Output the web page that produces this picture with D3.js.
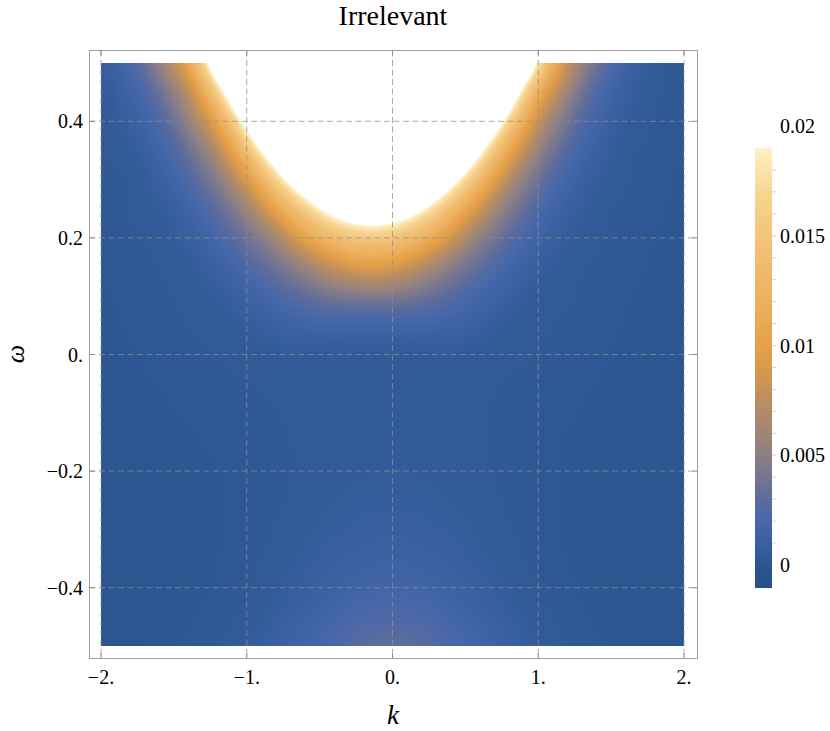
<!DOCTYPE html>
<html>
<head>
<meta charset="utf-8">
<script src="https://cdn.jsdelivr.net/npm/d3@7"></script>
<style>
  body { margin: 0; background: #fff; }
  text { font-family: "Liberation Serif", "Times New Roman", serif; fill: #000; }
</style>
</head>
<body>
<div id="chart"></div>
<script>
// grid of the density plot: columns are k, rows are omega (top row first)
const kValues = [-2.0, -1.8, -1.6, -1.4, -1.2, -1.0, -0.8, -0.6, -0.4, -0.2, 0.0,
                 0.2, 0.4, 0.6, 0.8, 1.0, 1.2, 1.4, 1.6, 1.8, 2.0];
const omegaValues = [0.5, 0.45, 0.4, 0.35, 0.3, 0.25, 0.2, 0.15, 0.1, 0.05, 0.0,
                     -0.05, -0.1, -0.15, -0.2, -0.25, -0.3, -0.35, -0.4, -0.45, -0.5];

// intensity, in units of 1e-3 (above 0.019 the plot is clipped to white)
const intensity = [
  [0.76, 2.11, 5.25, 10.9, 25.0, 52, 98, 148, 148, 148, 148, 148, 135, 77.5, 39.4, 18.1, 8.0, 3.7, 1.39, 0.5, 0.35],
  [0.52, 1.40, 3.56, 7.63, 16.5, 33.8, 62.7, 102.5, 146.8, 148, 148, 130, 86, 50, 25.8, 12.0, 5.77, 2.48, 0.93, 0.44, 0.31],
  [0.45, 0.92, 2.39, 5.39, 10.9, 22.0, 40.1, 64.7, 91.2, 110, 104.5, 81.4, 54.5, 32.2, 16.9, 8.14, 3.96, 1.63, 0.62, 0.39, 0.27],
  [0.39, 0.61, 1.55, 3.6, 7.27, 14.3, 25.7, 40.8, 56.7, 67.3, 64.4, 50.9, 34.6, 20.7, 11.0, 5.56, 2.61, 1.05, 0.47, 0.34, 0.24],
  [0.35, 0.40, 0.98, 2.37, 4.86, 9.3, 16.5, 25.7, 35.2, 41.2, 39.6, 31.8, 22.0, 13.4, 7.19, 3.65, 1.68, 0.68, 0.42, 0.30, 0.21],
  [0.31, 0.41, 0.62, 1.48, 3.12, 5.89, 10.5, 16.2, 21.9, 25.2, 24.4, 19.9, 13.9, 8.45, 4.63, 2.36, 1.04, 0.48, 0.37, 0.27, 0.19],
  [0.27, 0.36, 0.47, 0.90, 2.0, 3.66, 6.34, 10.2, 13.6, 15.5, 15.0, 12.4, 8.65, 5.15, 2.89, 1.44, 0.64, 0.42, 0.32, 0.24, 0.17],
  [0.24, 0.32, 0.41, 0.54, 1.14, 2.25, 3.72, 5.81, 8.04, 9.34, 8.99, 7.2, 4.94, 3.06, 1.75, 0.84, 0.47, 0.38, 0.29, 0.21, 0.15],
  [0.21, 0.28, 0.36, 0.45, 0.65, 1.24, 2.16, 3.10, 4.06, 4.47, 4.45, 3.72, 2.70, 1.77, 0.96, 0.50, 0.42, 0.33, 0.25, 0.18, 0.13],
  [0.19, 0.25, 0.32, 0.40, 0.47, 0.66, 1.07, 1.5, 1.65, 1.62, 1.63, 1.66, 1.35, 0.90, 0.53, 0.44, 0.37, 0.29, 0.22, 0.16, 0.11],
  [0.16, 0.22, 0.28, 0.35, 0.41, 0.47, 0.52, 0.56, 0.57, 0.55, 0.55, 0.57, 0.56, 0.49, 0.45, 0.39, 0.32, 0.26, 0.20, 0.15, 0.10],
  [0.14, 0.19, 0.24, 0.3, 0.35, 0.4, 0.45, 0.49, 0.52, 0.52, 0.52, 0.52, 0.49, 0.44, 0.39, 0.34, 0.28, 0.23, 0.18, 0.14, 0.1],
  [0.12, 0.16, 0.2, 0.25, 0.3, 0.35, 0.4, 0.45, 0.49, 0.51, 0.52, 0.5, 0.47, 0.42, 0.36, 0.3, 0.25, 0.2, 0.16, 0.12, 0.09],
  [0.1, 0.13, 0.17, 0.21, 0.26, 0.31, 0.37, 0.43, 0.49, 0.53, 0.55, 0.53, 0.48, 0.42, 0.35, 0.28, 0.22, 0.18, 0.14, 0.11, 0.08],
  [0.09, 0.11, 0.14, 0.18, 0.23, 0.29, 0.36, 0.44, 0.52, 0.58, 0.6, 0.58, 0.52, 0.44, 0.36, 0.28, 0.22, 0.17, 0.13, 0.1, 0.08],
  [0.08, 0.1, 0.13, 0.17, 0.22, 0.28, 0.37, 0.48, 0.6, 0.69, 0.73, 0.69, 0.6, 0.48, 0.37, 0.28, 0.22, 0.17, 0.13, 0.1, 0.08],
  [0.08, 0.1, 0.13, 0.17, 0.22, 0.3, 0.41, 0.56, 0.72, 0.85, 0.9, 0.85, 0.72, 0.56, 0.41, 0.3, 0.22, 0.17, 0.13, 0.1, 0.08],
  [0.08, 0.1, 0.13, 0.17, 0.23, 0.33, 0.48, 0.68, 0.92, 1.1, 1.2, 1.1, 0.92, 0.68, 0.48, 0.33, 0.23, 0.17, 0.13, 0.1, 0.08],
  [0.08, 0.1, 0.13, 0.18, 0.26, 0.38, 0.58, 0.87, 1.25, 1.55, 1.65, 1.55, 1.25, 0.87, 0.58, 0.38, 0.26, 0.18, 0.13, 0.1, 0.08],
  [0.08, 0.1, 0.15, 0.21, 0.31, 0.48, 0.76, 1.18, 1.7, 2.15, 2.3, 2.15, 1.7, 1.18, 0.76, 0.48, 0.31, 0.21, 0.15, 0.1, 0.08],
  [0.1, 0.12, 0.18, 0.26, 0.38, 0.6, 1.05, 1.6, 2.2, 2.8, 3.0, 2.8, 2.2, 1.6, 1.05, 0.6, 0.38, 0.26, 0.18, 0.12, 0.1]
];

const kTicks = [-2, -1, 0, 1, 2];
const kTickLabels = ["\u22122.", "\u22121.", "0.", "1.", "2."];
const omegaTicks = [-0.4, -0.2, 0, 0.2, 0.4];
const omegaTickLabels = ["\u22120.4", "\u22120.2", "0.", "0.2", "0.4"];

// legend, same 1e-3 units
const legendTicks = [0, 5, 10, 15, 20];
const legendTickLabels = ["0", "0.005", "0.01", "0.015", "0.02"];
const legendRange = [-1.05, 19.0];

const colorStops = [-1.05, 0, 1, 2, 3, 4, 5, 6, 7, 8, 9, 10, 12, 14, 15, 17, 19];
const colorStopColors = ["#25508a", "#2a558e", "#3a60a2", "#4767aa", "#5d6c9c", "#767690",
  "#8c7f85", "#a08676", "#b38b67", "#c69158", "#d9994c", "#e5a049", "#edb05f",
  "#f1bd70", "#f3c47a", "#f7d591", "#fff2c6"];

const width = 830, height = 731;

const svg = d3.select("#chart").append("svg")
    .attr("width", width)
    .attr("height", height);

const x = d3.scaleLinear().domain([-2, 2]).range([101, 684]);
const y = d3.scaleLinear().domain([-0.5, 0.5]).range([646, 63]);
const col = d3.scaleLinear().domain([kValues[0], kValues[kValues.length - 1]]).range([0, kValues.length - 1]);
const row = d3.scaleLinear().domain([omegaValues[0], omegaValues[omegaValues.length - 1]]).range([0, omegaValues.length - 1]);
const color = d3.scaleLinear().domain(colorStops).range(colorStopColors)
    .interpolate(d3.interpolateRgb).clamp(true);

// ---- density raster ----
const x0 = x.range()[0], y0 = y.range()[1];
const plotW = Math.round(x.range()[1] - x0), plotH = Math.round(y.range()[0] - y0);

function cubic(p0, p1, p2, p3, t) {
    return p1 + 0.5 * t * (p2 - p0 + t * (2 * p0 - 5 * p1 + 4 * p2 - p3 + t * (3 * (p1 - p2) + p3 - p0)));
}
const nC = kValues.length, nR = omegaValues.length;
const ci = i => Math.max(0, Math.min(nC - 1, i));
const ri = i => Math.max(0, Math.min(nR - 1, i));

// smooth in log space, the band falls off roughly exponentially
const logGrid = intensity.map(r => r.map(v => Math.log(v)));

function valueAt(c, r) {
    const c1 = Math.floor(c), r1 = Math.floor(r);
    const tc = c - c1, tr = r - r1;
    const v = [];
    for (let j = -1; j <= 2; j++) {
        const line = logGrid[ri(r1 + j)];
        v.push(cubic(line[ci(c1 - 1)], line[ci(c1)], line[ci(c1 + 1)], line[ci(c1 + 2)], tc));
    }
    return Math.exp(cubic(v[0], v[1], v[2], v[3], tr));
}

// colour lookup table
const lutN = 2048;
const lut = d3.range(lutN).map(i => d3.rgb(color(legendRange[0] + (legendRange[1] - legendRange[0]) * i / (lutN - 1))));

const canvas = document.createElement("canvas");
canvas.width = plotW;
canvas.height = plotH;
const ctx = canvas.getContext("2d");
const img = ctx.createImageData(plotW, plotH);
const colPos = d3.range(plotW).map(px => col(x.invert(x0 + px + 0.5)));
for (let py = 0; py < plotH; py++) {
    const r = row(y.invert(y0 + py + 0.5));
    for (let px = 0; px < plotW; px++) {
        const v = valueAt(colPos[px], r);
        const a = Math.max(0, Math.min(1, (legendRange[1] + 0.4 - v) / 0.4));
        if (a <= 0) continue;
        const t = Math.max(0, Math.min(1, (v - legendRange[0]) / (legendRange[1] - legendRange[0])));
        const c = lut[Math.round(t * (lutN - 1))];
        const o = (py * plotW + px) * 4;
        img.data[o] = c.r;
        img.data[o + 1] = c.g;
        img.data[o + 2] = c.b;
        img.data[o + 3] = Math.round(a * 255);
    }
}
ctx.putImageData(img, 0, 0);

svg.append("image")
    .attr("x", x0)
    .attr("y", y0)
    .attr("width", plotW)
    .attr("height", plotH)
    .attr("href", canvas.toDataURL());

// ---- frame, grid, ticks ----
const frame = { left: 89.5, right: 697.5, top: 50.5, bottom: 658.5 };
const gridColor = "#8f8f8f";

svg.append("g").selectAll("line")
    .data(kTicks)
    .join("line")
    .attr("x1", d => x(d)).attr("x2", d => x(d))
    .attr("y1", frame.top).attr("y2", frame.bottom)
    .attr("stroke", gridColor).attr("stroke-opacity", 0.75)
    .attr("stroke-dasharray", "6,3.5");

svg.append("g").selectAll("line")
    .data(omegaTicks)
    .join("line")
    .attr("x1", frame.left).attr("x2", frame.right)
    .attr("y1", d => y(d)).attr("y2", d => y(d))
    .attr("stroke", gridColor).attr("stroke-opacity", 0.75)
    .attr("stroke-dasharray", "6,3.5");

svg.append("rect")
    .attr("x", frame.left).attr("y", frame.top)
    .attr("width", frame.right - frame.left)
    .attr("height", frame.bottom - frame.top)
    .attr("fill", "none")
    .attr("stroke", "#a0a0a0");

const tickLen = 5;
const ticks = svg.append("g").attr("stroke", "#8a8a8a");
kTicks.forEach(d => {
    ticks.append("line").attr("x1", x(d)).attr("x2", x(d))
        .attr("y1", frame.bottom).attr("y2", frame.bottom - tickLen);
    ticks.append("line").attr("x1", x(d)).attr("x2", x(d))
        .attr("y1", frame.top).attr("y2", frame.top + tickLen);
});
omegaTicks.forEach(d => {
    ticks.append("line").attr("y1", y(d)).attr("y2", y(d))
        .attr("x1", frame.left).attr("x2", frame.left + tickLen);
    ticks.append("line").attr("y1", y(d)).attr("y2", y(d))
        .attr("x1", frame.right).attr("x2", frame.right - tickLen);
});

svg.append("g").selectAll("text")
    .data(kTicks)
    .join("text")
    .attr("x", d => x(d))
    .attr("y", 684)
    .attr("text-anchor", "middle")
    .attr("font-size", 20)
    .text((d, i) => kTickLabels[i]);

svg.append("g").selectAll("text")
    .data(omegaTicks)
    .join("text")
    .attr("x", 83)
    .attr("y", d => y(d))
    .attr("dy", "0.35em")
    .attr("text-anchor", "end")
    .attr("font-size", 20)
    .text((d, i) => omegaTickLabels[i]);

// axis labels and title
svg.append("text")
    .attr("x", 393)
    .attr("y", 724)
    .attr("text-anchor", "middle")
    .attr("font-size", 27)
    .attr("font-style", "italic")
    .text("k");

svg.append("text")
    .attr("transform", "translate(24,354) rotate(-90)")
    .attr("text-anchor", "middle")
    .attr("font-size", 26)
    .attr("font-style", "italic")
    .text("\u03c9");

svg.append("text")
    .attr("x", 393)
    .attr("y", 25)
    .attr("text-anchor", "middle")
    .attr("font-size", 28)
    .text("Irrelevant");

// ---- colour bar ----
const legendY = d3.scaleLinear().domain(legendRange).range([588, 148]);
const grad = svg.append("defs").append("linearGradient")
    .attr("id", "bar-grad")
    .attr("x1", 0).attr("y1", 1).attr("x2", 0).attr("y2", 0);
grad.selectAll("stop")
    .data(colorStops)
    .join("stop")
    .attr("offset", d => (d - legendRange[0]) / (legendRange[1] - legendRange[0]))
    .attr("stop-color", (d, i) => colorStopColors[i]);

svg.append("rect")
    .attr("x", 755)
    .attr("y", legendY(legendRange[1]))
    .attr("width", 17)
    .attr("height", legendY(legendRange[0]) - legendY(legendRange[1]))
    .attr("fill", "url(#bar-grad)");

svg.append("g").selectAll("line")
    .data(d3.range(1, 19, 1))
    .join("line")
    .attr("x1", 772).attr("x2", 776)
    .attr("y1", d => legendY(d)).attr("y2", d => legendY(d))
    .attr("stroke", "#d4d4d4");

svg.append("g").selectAll("text")
    .data(legendTicks)
    .join("text")
    .attr("x", 780)
    .attr("y", d => legendY(d))
    .attr("dy", "0.35em")
    .attr("font-size", 20)
    .text((d, i) => legendTickLabels[i]);
</script>
</body>
</html>
